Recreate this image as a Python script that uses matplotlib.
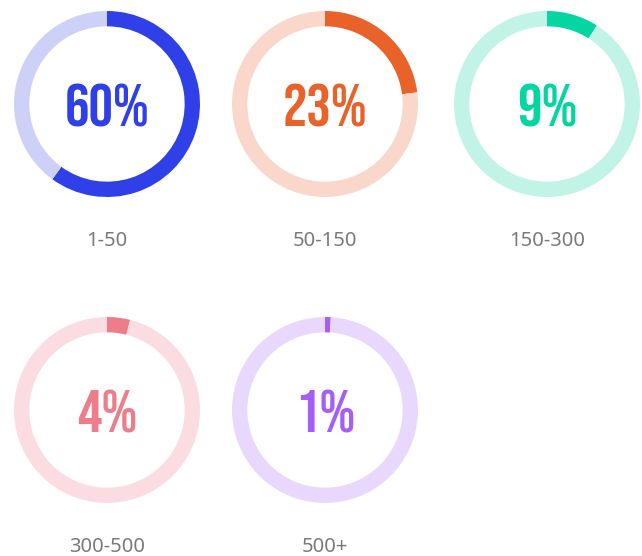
import matplotlib
matplotlib.use('Agg')
import matplotlib.pyplot as plt

# data
labels = ['1-50', '50-150', '150-300', '300-500', '500+']
values = [60, 23, 9, 4, 1]
colors = ['#2f40e8', '#e8622a', '#04d6a2', '#ee7d8a', '#a55ef6']
track_colors = ['#cdd1f8', '#f9d8cb', '#c1f4e6', '#fbdde1', '#e8d8fd']

W, H = 642, 556
centers = [(107, 104), (325, 104), (547, 104), (107, 410), (325, 410)]
R = 93

fig = plt.figure(figsize=(W / 100, H / 100), dpi=100)

for i in range(len(values)):
	cx, cy = centers[i]
	ax = fig.add_axes([(cx - R) / W, (H - cy - R) / H, 2 * R / W, 2 * R / H])
	v = values[i]
	ax.pie([v, 100 - v], colors=[colors[i], track_colors[i]], startangle=90,
		counterclock=False, radius=1,
		wedgeprops=dict(width=0.165, linewidth=0))
	ax.set_xlim(-1, 1)
	ax.set_ylim(-1, 1)
	ax.axis('off')
	ax.text(0, -0.02, str(v) + '%', ha='center', va='center', fontsize=44,
		family=['Bebas Neue', 'DejaVu Sans'], color=colors[i])
	fig.text(cx / W, 1 - (cy + 137) / H, labels[i], ha='center', va='center',
		fontsize=14.5, color='#7a7a7a', family=['Noto Sans', 'DejaVu Sans'])

fig.savefig('out.png', dpi=100)
